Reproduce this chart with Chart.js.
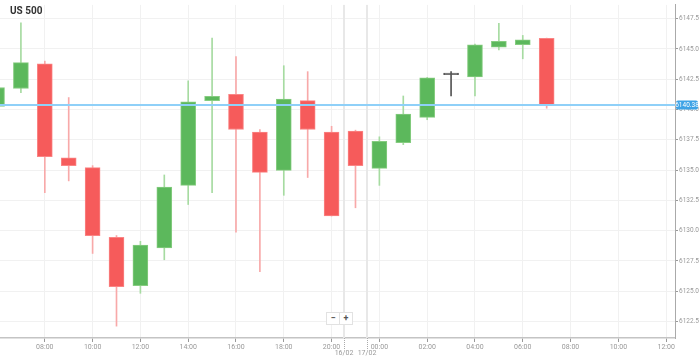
<!DOCTYPE html>
<html><head><meta charset="utf-8">
<script src="https://cdn.jsdelivr.net/npm/chart.js@4.4.1/dist/chart.umd.min.js"></script>
<style>
html,body{margin:0;padding:0;background:#fff;overflow:hidden;}
#wrap{position:relative;width:699px;height:357px;}
#title{position:absolute;left:10px;top:5px;font:bold 10px Roboto, "Open Sans", sans-serif;color:#333;}
#zoom{position:absolute;left:326px;top:312px;display:flex;border:1px solid #e2e2e2;background:#fff;}
#zoom span{display:block;width:12px;height:11px;font:bold 9px/11px Roboto, sans-serif;color:#555;text-align:center;}
</style></head><body>
<div id="wrap"><canvas id="c" width="699" height="357"></canvas>
<div id="title">US 500</div>
<div id="zoom"><span>−</span><span style="border-left:1px solid #e2e2e2">+</span></div></div>
<script>
// Candle times (hourly)
const times = ["06:00","07:00","08:00","09:00","10:00","11:00","12:00","13:00","14:00","15:00","16:00","17:00",
               "18:00","19:00","20:00","21:00","00:00","01:00","02:00","03:00","04:00","05:00","06:00","07:00"];
const opens  = [6140.25,6141.74,6143.78,6136.02,6135.20,6129.45,6125.46,6128.57,6133.74,6140.74,6141.25,6138.14,
                6134.98,6140.74,6138.14,6138.22,6135.15,6137.26,6139.36,6142.88,6142.70,6145.14,6145.35,6145.87];
const highs  = [6142.10,6147.17,6144.00,6140.99,6135.37,6129.60,6129.12,6134.60,6142.37,6145.90,6144.37,6138.35,
                6143.62,6143.13,6138.62,6138.30,6137.75,6141.12,6142.65,6143.13,6145.40,6147.12,6146.12,6145.90];
const lows   = [6139.90,6141.39,6133.14,6134.11,6128.12,6122.12,6124.83,6127.60,6132.16,6133.14,6129.88,6126.62,
                6132.92,6134.39,6131.21,6131.89,6133.74,6137.10,6139.16,6141.12,6141.12,6144.92,6144.19,6140.11];
const closes = [6141.82,6143.88,6136.10,6135.37,6129.58,6125.37,6128.82,6133.60,6140.63,6141.09,6138.35,6134.82,
                6140.87,6138.35,6131.21,6135.37,6137.37,6139.63,6142.61,6142.88,6145.35,6145.63,6145.76,6140.38];
// x-axis tick labels by slot index
const axisLabels = ["06:00","07:00","08:00","09:00","10:00","11:00","12:00","13:00","14:00","15:00","16:00","17:00",
                    "18:00","19:00","20:00","21:00","00:00","01:00","02:00","03:00","04:00","05:00","06:00","07:00",
                    "08:00","09:00","10:00","11:00","12:00"];
const xTickSlots = [2,4,6,8,10,12,14,16,18,20,22,24,26,28];
const yTicks = [6122.5,6125.0,6127.5,6130.0,6132.5,6135.0,6137.5,6140.0,6142.5,6145.0,6147.5];
const dateLabels = ["16/02","17/02"];
const dateSlots = [14.5, 15.5];
const lastPrice = 6140.38;

const GREEN="#5cb85c", RED="#f65b5b", GREY="#555555";
const GREEN_W="#a6dba1", RED_W="#f8a9a9";
const dir = times.map((t,i)=> closes[i]>opens[i]?1:(closes[i]<opens[i]?-1:0));
const bodyColor = dir.map(d=> d>0?GREEN:(d<0?RED:GREY));
const bodyBorder = dir.map(d=> d>0?"#86cc80":(d<0?"#fa8585":GREY));
const wickColor = dir.map(d=> d>0?GREEN_W:(d<0?RED_W:GREY));

const overlay = {
  id:'overlay',
  beforeDatasetsDraw(chart){
    const {ctx, chartArea:a, scales:{x}} = chart;
    ctx.save();
    dateSlots.forEach((s,k)=>{
      const px = Math.round(x.getPixelForValue(s));
      ctx.fillStyle="#e8e8e8";
      ctx.fillRect(px-1, a.top, 2, a.bottom-a.top);
      ctx.fillStyle="#aaa";
      for(let yy=a.bottom; yy<a.bottom+12; yy+=2) ctx.fillRect(px, yy, 1, 1);
      ctx.fillStyle="#999"; ctx.font="7px Roboto, sans-serif"; ctx.textAlign="center"; ctx.textBaseline="middle";
      ctx.fillText(dateLabels[k], px, a.bottom+15);
    });
    ctx.restore();
  },
  afterDraw(chart){
    const {ctx, chartArea:a, scales:{y}} = chart;
    const py = Math.round(y.getPixelForValue(lastPrice));
    ctx.save();
    ctx.fillStyle="#8fd0f8";
    ctx.fillRect(a.left, py-1, a.right-a.left, 2);
    ctx.fillStyle="#3ea3e6";
    const bx=a.right+1, bw=22, bh=9;
    ctx.beginPath(); ctx.roundRect(bx, py-bh/2, bw, bh, 2); ctx.fill();
    ctx.fillStyle="#fff"; ctx.font="6.5px Roboto, sans-serif"; ctx.textAlign="center"; ctx.textBaseline="middle";
    ctx.fillText(lastPrice.toFixed(2), bx+bw/2, py+0.5);
    ctx.restore();
  }
};

new Chart(document.getElementById('c'), {
  type:'bar',
  data:{
    datasets:[
      { label:'body', order:1, grouped:false, barThickness:15, minBarLength:1.5,
        data: times.map((t,i)=>({x:i, y:[opens[i], closes[i]]})),
        backgroundColor: bodyColor, borderColor: bodyBorder, borderWidth:1, borderSkipped:false },
      { label:'wick', order:2, grouped:false, barThickness:1,
        data: times.map((t,i)=>({x:i, y:[lows[i], highs[i]]})),
        backgroundColor: wickColor, borderWidth:0 }
    ]
  },
  options:{
    responsive:false, animation:false, devicePixelRatio:1,
    layout:{padding:0},
    plugins:{legend:{display:false}, tooltip:{enabled:false}},
    scales:{
      x:{ type:'linear', min:0.125, max:28.37, offset:false,
          grid:{offset:false, color:"#f1f1f1", tickColor:"#999", tickLength:4, drawTicks:true},
          border:{color:"#c4c4c4", width:1.5},
          afterBuildTicks:(s)=>{ s.ticks = xTickSlots.map(v=>({value:v})); },
          ticks:{autoSkip:false, maxRotation:0, padding:1,
                 color:"#999", font:{family:"Roboto", size:7},
                 callback:(v)=> axisLabels[v] ?? ""},
          afterFit:(s)=>{ s.height=19; } },
      y:{ position:'right', min:6121.14, max:6148.64,
          grid:{color:"#f1f1f1", tickColor:"#999", tickLength:3},
          border:{color:"#aaa", width:1},
          afterBuildTicks:(s)=>{ s.ticks = yTicks.map(v=>({value:v})); },
          ticks:{padding:1, color:"#999",
                 font:{family:"Roboto", size:6.5}, callback:(v)=> v.toFixed(2)},
          afterFit:(s)=>{ s.width=24; } }
    }
  },
  plugins:[overlay]
});
</script>
</body></html>
